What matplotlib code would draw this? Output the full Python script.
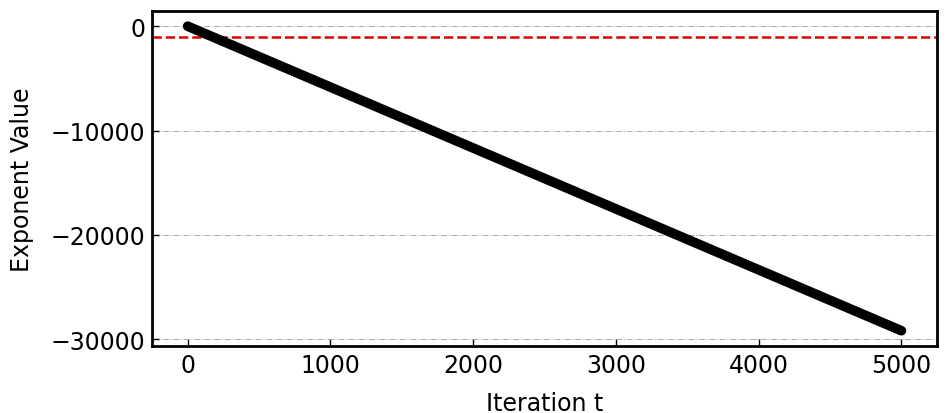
import matplotlib
matplotlib.use("Agg")
import matplotlib.pyplot as plt

iterations = [0, 1000, 2000, 3000, 4000, 5000]
exponent = [0, -5840, -11680, -17520, -23360, -29200]
threshold = -1000

plt.rcParams['font.family'] = ['DejaVu Sans']
fig = plt.figure(figsize=(9.47, 4.14), dpi=100)
ax = fig.add_axes([0.1605, 0.162, 0.829, 0.809])
ax.plot(iterations, exponent, color='black', lw=7, solid_capstyle='round', zorder=3)
ax.axhline(threshold, color='#e00000', ls='--', lw=1.8, zorder=2)
ax.grid(axis='y', color='#aaaaaa', ls='-.', lw=0.7)
ax.set_xticks([0, 1000, 2000, 3000, 4000, 5000])
ax.set_yticks([-30000, -20000, -10000, 0])
ax.tick_params(direction='in', labelsize=17, width=1, length=5, pad=5)
ax.set_xlabel('Iteration t', fontsize=17, labelpad=10)
ax.set_ylabel('Exponent Value', fontsize=17, labelpad=12)
for s in ax.spines.values():
    s.set_linewidth(2)
fig.savefig('out.png', dpi=100)
